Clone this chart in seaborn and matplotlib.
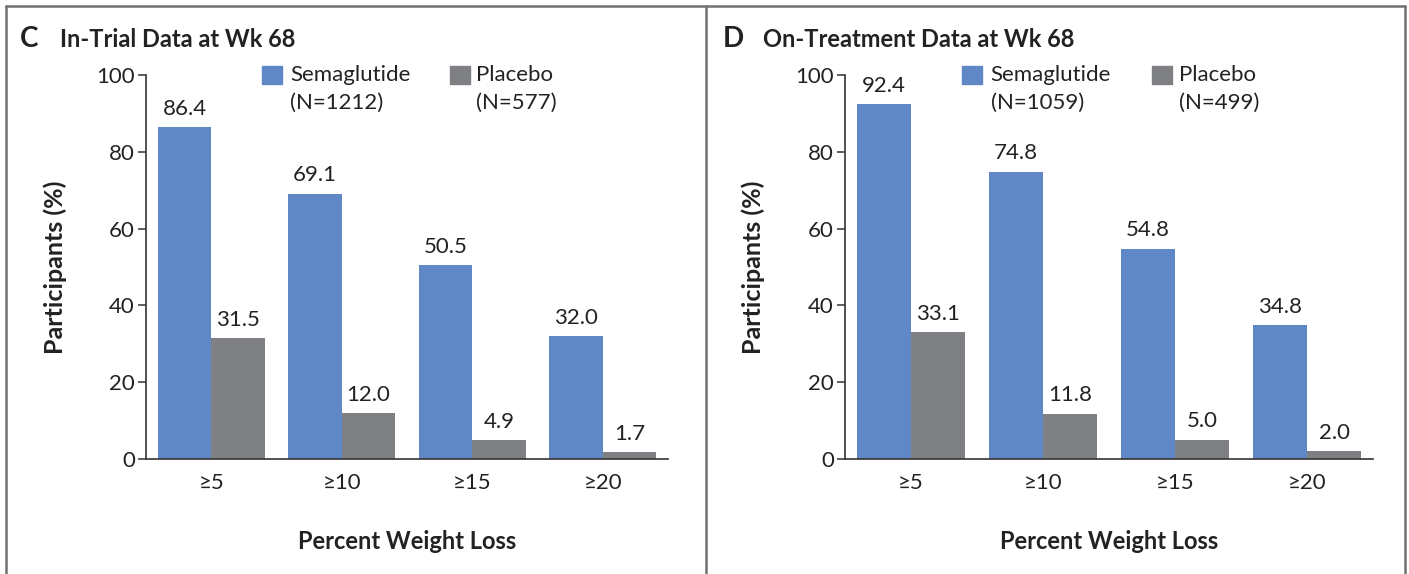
import pandas as pd
import matplotlib.pyplot as plt
import seaborn as sns
from matplotlib.patches import Rectangle
from matplotlib.lines import Line2D

# Data
thresholds = ["≥5", "≥10", "≥15", "≥20"]
treatments = ["Semaglutide", "Placebo"]

in_trial_sema = [86.4, 69.1, 50.5, 32.0]
in_trial_placebo = [31.5, 12.0, 4.9, 1.7]
in_trial_n = ["(N=1212)", "(N=577)"]

on_treat_sema = [92.4, 74.8, 54.8, 34.8]
on_treat_placebo = [33.1, 11.8, 5.0, 2.0]
on_treat_n = ["(N=1059)", "(N=499)"]

panel_letters = ["C", "D"]
panel_titles = ["In-Trial Data at Wk 68", "On-Treatment Data at Wk 68"]

colors = {"Semaglutide": "#6088c6", "Placebo": "#7e8083"}
text_color = "#222222"

sns.set_theme(style="white")
plt.rcParams['font.family'] = ['Lato', 'DejaVu Sans']


def make_df(sema, placebo):
    rows = []
    for t, s, p in zip(thresholds, sema, placebo):
        rows.append({"threshold": t, "group": "Semaglutide", "pct": s})
        rows.append({"threshold": t, "group": "Placebo", "pct": p})
    return pd.DataFrame(rows)


panels = [
    (make_df(in_trial_sema, in_trial_placebo), in_trial_n),
    (make_df(on_treat_sema, on_treat_placebo), on_treat_n),
]

fig = plt.figure(figsize=(14.09, 5.74), dpi=100)
axes_rects = [
    [146 / 1409, 115 / 574, 522 / 1409, 384 / 574],
    [845 / 1409, 115 / 574, 528 / 1409, 384 / 574],
]

for i, (df, ns) in enumerate(panels):
    ax = fig.add_axes(axes_rects[i])
    sns.barplot(data=df, x="threshold", y="pct", hue="group", order=thresholds,
                hue_order=treatments, palette=colors, width=0.82, gap=0,
                saturation=1, linewidth=0, legend=False, ax=ax)
    for c in ax.containers:
        ax.bar_label(c, fmt="%.1f", padding=6, fontsize=16, color=text_color)

    ax.set_ylim(0, 100)
    ax.set_xlim(-0.5, 3.5)
    ax.set_yticks([0, 20, 40, 60, 80, 100])
    ax.tick_params(axis="y", direction="out", length=6, width=1.1, color="#333333",
                   labelsize=16, labelcolor=text_color, pad=2, left=True)
    ax.tick_params(axis="x", length=0, labelsize=16, labelcolor=text_color, pad=10)
    for side in ["top", "right"]:
        ax.spines[side].set_visible(False)
    for side in ["left", "bottom"]:
        ax.spines[side].set_color("#333333")
        ax.spines[side].set_linewidth(1.2)

    ax.set_ylabel("Participants (%)", fontsize=18, fontweight="bold", color=text_color)
    ax.yaxis.set_label_coords(-0.152, 0.5)
    ax.set_xlabel("Percent Weight Loss", fontsize=17, fontweight="bold", color=text_color)
    ax.xaxis.set_label_coords(0.5, -0.185)

    # legend drawn by hand so the swatch sits on the first line
    for name, px, tx, n in zip(treatments, [0.222, 0.582], [0.276, 0.632], ns):
        ax.add_patch(Rectangle((px, 0.977), 0.038, 0.047, transform=ax.transAxes,
                               color=colors[name], clip_on=False))
        ax.text(tx, 1.0, name, transform=ax.transAxes, fontsize=16,
                color=text_color, va="center", ha="left")
        ax.text(tx, 0.927, n, transform=ax.transAxes, fontsize=16,
                color=text_color, va="center", ha="left")

# panel headings
for x0, letter, title in zip([20, 723], panel_letters, panel_titles):
    fig.text(x0 / 1409, 1 - 47 / 574, letter, fontsize=20, fontweight="bold",
             color=text_color, va="baseline")
    fig.text((x0 + 40) / 1409, 1 - 47 / 574, title, fontsize=17, fontweight="bold",
             color=text_color, va="baseline")

# panel frames
frame = dict(color="#707070", linewidth=1.8, transform=fig.transFigure)
top = 1 - 6 / 574
fig.add_artist(Line2D([6 / 1409, 1405 / 1409], [top, top], **frame))
for x in [6, 706, 1405]:
    fig.add_artist(Line2D([x / 1409, x / 1409], [0, top], **frame))

fig.savefig("out.png", dpi=100)
